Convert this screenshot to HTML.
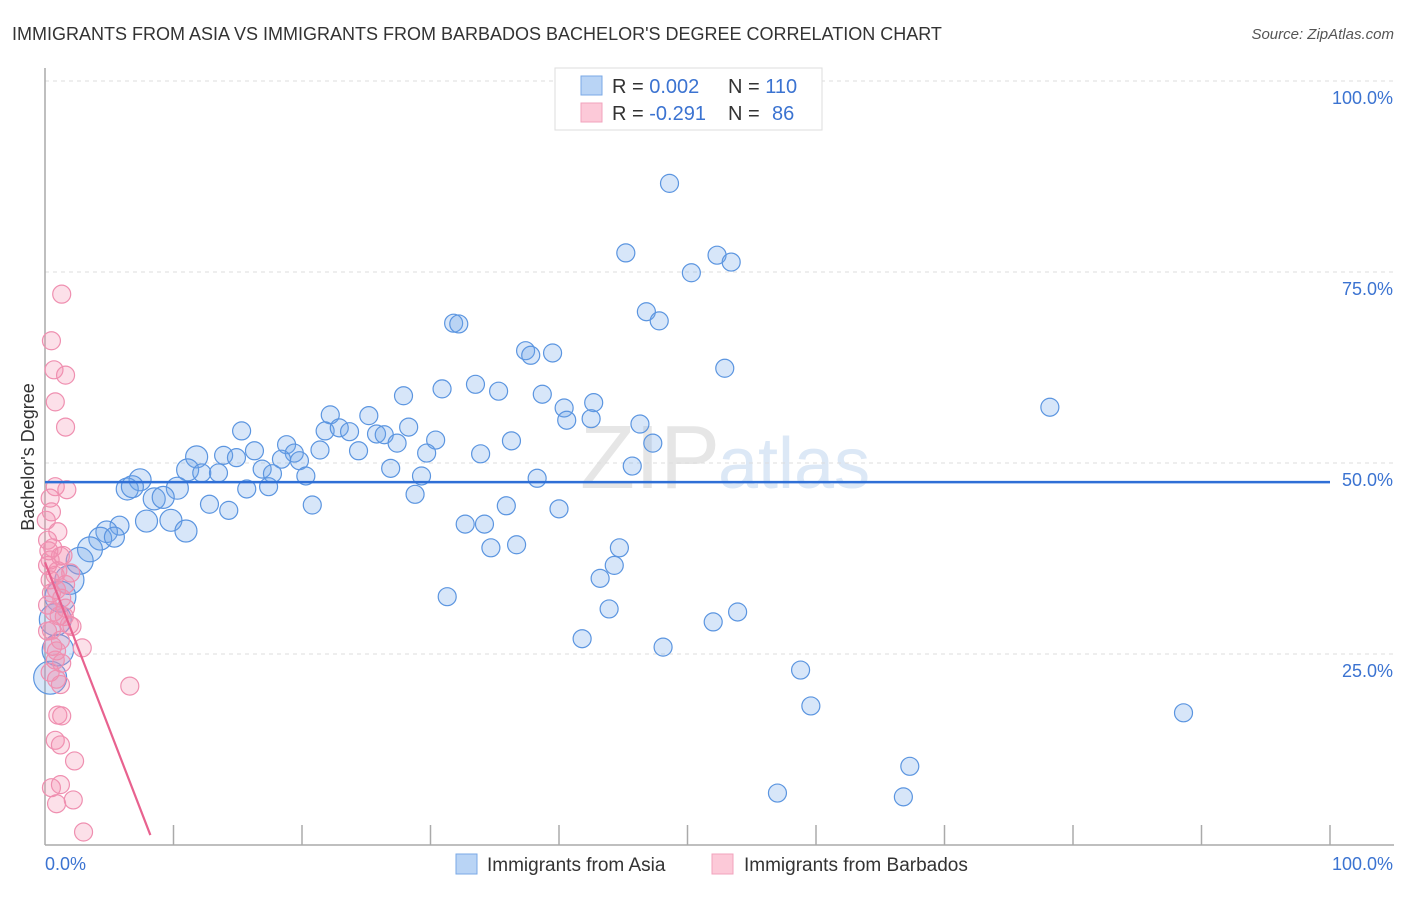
<!DOCTYPE html>
<html><head><meta charset="utf-8"><style>
body{margin:0;background:#fff;font-family:"Liberation Sans",sans-serif}
svg text{font-family:"Liberation Sans",sans-serif}
</style></head><body>
<svg width="1406" height="892">
<text x="12" y="40" font-size="18" fill="#333">IMMIGRANTS FROM ASIA VS IMMIGRANTS FROM BARBADOS BACHELOR'S DEGREE CORRELATION CHART</text>
<text x="1394" y="39" font-size="15" fill="#555" font-style="italic" text-anchor="end">Source: ZipAtlas.com</text>
<text x="720" y="488" font-size="90" fill="#e6e6e6" text-anchor="end" font-family="Liberation Serif">ZIP</text>
<text x="718" y="488" font-size="72" fill="#dce8f6">atlas</text>
<g id="grid"></g>
<g id="axes"></g>
<g id="pts"></g>
<g id="trend"></g>
<text transform="translate(34,457) rotate(-90)" font-size="18" fill="#333" text-anchor="middle">Bachelor's Degree</text>
<g>
<rect x="555" y="68" width="267" height="62" fill="#fff" stroke="#ddd"/>
<rect x="581" y="76" width="21" height="19" fill="#b9d4f5" stroke="#7aa8e6"/>
<rect x="581" y="103" width="21" height="19" fill="#fcc9d8" stroke="#f2a3bd"/>
<text x="612" y="93" font-size="20" fill="#333">R = <tspan fill="#3b73d1">0.002</tspan><tspan x="728">N = </tspan><tspan fill="#3b73d1">110</tspan></text>
<text x="612" y="120" font-size="20" fill="#333">R = <tspan fill="#3b73d1">-0.291</tspan><tspan x="728">N = </tspan><tspan fill="#3b73d1" x="772">86</tspan></text>
</g>
<g>
<rect x="456" y="854" width="21" height="20" fill="#b9d4f5" stroke="#7aa8e6"/>
<text x="487" y="871" font-size="19" fill="#333">Immigrants from Asia</text>
<rect x="712" y="854" width="21" height="20" fill="#fcc9d8" stroke="#f2a3bd"/>
<text x="744" y="871" font-size="19" fill="#333">Immigrants from Barbados</text>
</g>
</svg>
<script>
const yTicks=[25,50,75,100];
const yTickLabels=["25.0%","50.0%","75.0%","100.0%"];
const xTicks=[10,20,30,40,50,60,70,80,90,100];
const asiaX=[48.6,45.2,52.3,53.4,50.3,46.8,47.8,31.8,32.2,37.4,37.8,39.5,52.9,33.5,30.9,35.3,27.9,38.7,42.7,40.4,78.2,22.2,25.2,40.6,42.5,46.3,28.3,21.8,22.9,23.7,25.8,26.4,15.3,30.4,36.3,47.3,27.4,18.8,21.4,16.3,24.4,19.4,29.7,33.9,11.8,13.9,14.9,18.4,19.8,45.7,11.1,16.9,12.2,13.5,26.9,17.7,20.3,29.3,38.3,7.4,6.4,6.8,10.3,15.7,17.4,28.8,8.5,9.2,12.8,20.8,14.3,35.9,40.0,7.9,9.8,32.7,34.2,5.8,10.97,4.8,4.3,5.4,36.7,34.7,44.7,3.5,2.7,44.3,43.2,1.9,31.3,1.2,43.9,53.9,0.8,52.0,41.8,48.1,1.0,58.8,0.4,59.6,88.6,67.3,57.0,66.8];
const asiaY=[86.6,77.5,77.2,76.3,74.9,69.8,68.6,68.3,68.2,64.7,64.1,64.4,62.4,60.3,59.7,59.4,58.8,59.0,57.9,57.2,57.3,56.3,56.2,55.6,55.8,55.1,54.7,54.2,54.6,54.1,53.8,53.7,54.2,53.0,52.9,52.6,52.6,52.4,51.7,51.6,51.6,51.3,51.3,51.2,50.8,51.0,50.7,50.5,50.3,49.6,49.1,49.2,48.7,48.7,49.3,48.6,48.3,48.3,48.0,47.8,46.6,46.9,46.7,46.6,46.9,45.9,45.3,45.5,44.6,44.5,43.8,44.4,44.0,42.4,42.5,42.0,42.0,41.8,41.1,41.0,40.1,40.3,39.3,38.9,38.9,38.7,37.2,36.6,34.9,34.7,32.5,32.5,30.9,30.5,29.5,29.2,27.0,25.9,25.5,22.9,21.9,18.2,17.3,10.3,6.8,6.3];
const barbX=[1.3,0.5,0.7,1.6,0.8,1.6,0.8,1.7,0.4,0.5,1.0,0.2,0.6,1.2,0.2,0.8,0.4,0.9,1.3,0.2,0.7,1.6,1.9,0.5,1.2,2.9,0.8,1.3,6.6,1.0,1.3,0.8,1.2,2.3,0.5,1.2,2.2,0.9,3.0,0.1,0.4,1.0,1.6,0.2,0.9,1.5,2.1,0.4,0.9,1.2,2.0,1.4,0.5,1.1,0.3,0.6];
const barbY=[72.1,66.0,62.2,61.5,58.0,54.7,46.9,46.5,45.4,43.6,41.0,39.9,38.9,37.8,36.6,35.3,34.7,33.4,32.3,31.4,30.5,31.0,28.8,28.1,26.8,25.8,24.2,23.8,20.8,17.0,16.9,13.7,13.1,11.0,7.5,7.9,5.9,5.4,1.7,42.5,37.3,35.9,34.1,28.0,25.4,29.9,28.6,22.6,21.7,21.0,35.6,37.9,33.0,30.0,38.5,26.0];
const asiaTrend=[47.5,47.5];
const barbTrend=[[0,37],[8.2,1.3]];
const X=v=>45+v*12.85, Y=v=>845-v*7.64;
const NS="http://www.w3.org/2000/svg";
function mk(p,t,a){const e=document.createElementNS(NS,t);for(const k in a)e.setAttribute(k,a[k]);p.appendChild(e);return e;}
const grid=document.getElementById('grid'),axes=document.getElementById('axes'),pts=document.getElementById('pts'),tr=document.getElementById('trend');
yTicks.forEach((t,i)=>{
 const l=mk(grid,'line',{x1:45,x2:1394,y1:Y(t),y2:Y(t),stroke:'#ddd','stroke-dasharray':'4,4'});
 
 
 const tx=mk(axes,'text',{x:1393,y:Y(t)+23,'font-size':18,fill:'#3b73d1','text-anchor':'end'});tx.textContent=yTickLabels[i];
 
 
});
const ya=mk(axes,'line',{x1:45,x2:45,y1:68,y2:845,stroke:'#aaa','stroke-width':1.5});


const xa=mk(axes,'line',{x1:45,x2:1394,y1:845,y2:845,stroke:'#aaa','stroke-width':1.5});


xTicks.forEach(t=>{const l=mk(axes,'line',{x1:X(t),x2:X(t),y1:825,y2:845,stroke:'#aaa','stroke-width':1.5});
 
 });
const x0=mk(axes,'text',{x:45,y:870,'font-size':18,fill:'#3b73d1'});x0.textContent='0.0%';


const x1=mk(axes,'text',{x:1393,y:870,'font-size':18,fill:'#3b73d1','text-anchor':'end'});x1.textContent='100.0%';


asiaX.forEach((x,i)=>{const r=x<6?Math.max(9,17-x*1.3):(x<12?11:9);
 const c=mk(pts,'circle',{cx:X(x),cy:Y(asiaY[i]),r:r,fill:'rgba(110,165,235,0.28)',stroke:'#5b95e0','stroke-width':1.2});
 
 });
barbX.forEach((x,i)=>{const c=mk(pts,'circle',{cx:X(x),cy:Y(barbY[i]),r:9,fill:'rgba(244,143,177,0.28)',stroke:'#ef8fb0','stroke-width':1.2});
 
 });
const bl=mk(tr,'line',{x1:X(0),x2:X(100),y1:Y(asiaTrend[0]),y2:Y(asiaTrend[1]),stroke:'#2f6fd6','stroke-width':2.5});


const pl=mk(tr,'line',{x1:X(barbTrend[0][0]),y1:Y(barbTrend[0][1]),x2:X(barbTrend[1][0]),y2:Y(barbTrend[1][1]),stroke:'#e8628f','stroke-width':2.2});


</script>
</body></html>
